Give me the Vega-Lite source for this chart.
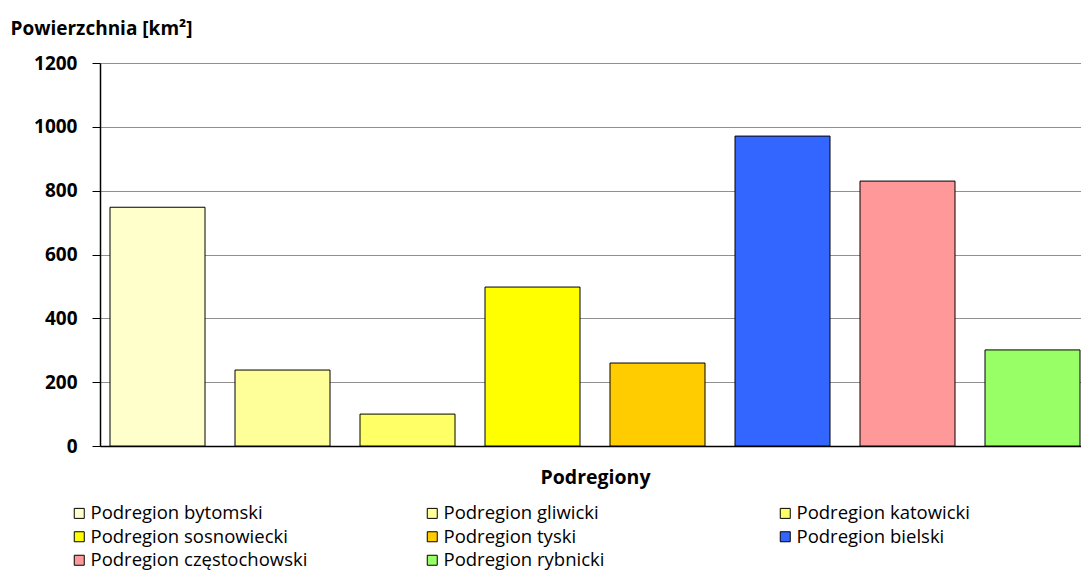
{
  "$schema": "https://vega.github.io/schema/vega-lite/v6.json",
  "autosize": {"type": "none"},
  "width": 990,
  "height": 383,
  "padding": {"left": 100, "top": 63, "right": 0, "bottom": 135},
  "background": "white",
  "config": {
    "font": "Open Sans",
    "view": {"stroke": null}
  },
  "data": {
    "values": [
      {"podregion": "Podregion bytomski", "powierzchnia": 748},
      {"podregion": "Podregion gliwicki", "powierzchnia": 238},
      {"podregion": "Podregion katowicki", "powierzchnia": 100},
      {"podregion": "Podregion sosnowiecki", "powierzchnia": 498},
      {"podregion": "Podregion tyski", "powierzchnia": 260},
      {"podregion": "Podregion bielski", "powierzchnia": 971},
      {"podregion": "Podregion częstochowski", "powierzchnia": 830},
      {"podregion": "Podregion rybnicki", "powierzchnia": 301}
    ]
  },
  "mark": {"type": "bar", "stroke": "black", "strokeWidth": 1},
  "encoding": {
    "x": {
      "field": "podregion",
      "type": "nominal",
      "sort": null,
      "scale": {"paddingInner": 0.24, "paddingOuter": 0.08},
      "axis": {
        "title": "Podregiony",
        "titleFont": "Open Sans",
        "titleFontSize": 19.5,
        "titleFontWeight": "bold",
        "titleColor": "black",
        "titleX": 495,
        "titleY": 31,
        "titleBaseline": "middle",
        "labels": false,
        "ticks": false,
        "domainColor": "black",
        "domainWidth": 1.5
      }
    },
    "y": {
      "field": "powierzchnia",
      "type": "quantitative",
      "scale": {"domain": [0, 1200], "nice": false},
      "axis": {
        "values": [0, 200, 400, 600, 800, 1000, 1200],
        "format": "d",
        "title": "Powierzchnia [km²]",
        "titleFont": "Open Sans",
        "titleFontSize": 19,
        "titleFontWeight": "bold",
        "titleColor": "black",
        "titleAngle": 0,
        "titleAlign": "left",
        "titleBaseline": "middle",
        "titleX": -90,
        "titleY": -35,
        "labelFont": "Open Sans",
        "labelFontSize": 19,
        "labelFontWeight": "bold",
        "labelColor": "black",
        "labelPadding": 15,
        "tickSize": 8,
        "tickColor": "black",
        "domainColor": "black",
        "domainWidth": 1.5,
        "gridColor": "#909090",
        "gridWidth": 1,
        "gridOpacity": 1
      }
    },
    "fill": {
      "field": "podregion",
      "type": "nominal",
      "sort": null,
      "scale": {
        "domain": ["Podregion bytomski", "Podregion gliwicki", "Podregion katowicki", "Podregion sosnowiecki", "Podregion tyski", "Podregion bielski", "Podregion częstochowski", "Podregion rybnicki"],
        "range": ["#FFFFCC", "#FFFF99", "#FFFF66", "#FFFF00", "#FFCC00", "#3366FF", "#FF9999", "#99FF66"]
      },
      "legend": {
        "title": null,
        "orient": "none",
        "legendX": -30,
        "legendY": 441,
        "direction": "horizontal",
        "columns": 3,
        "gridAlign": "all",
        "columnPadding": 115,
        "rowPadding": 4.5,
        "symbolType": "square",
        "symbolSize": 100,
        "symbolStrokeColor": "black",
        "symbolStrokeWidth": 1,
        "labelFont": "Open Sans",
        "labelFontSize": 18.5,
        "labelColor": "black",
        "labelOffset": 2,
        "labelLimit": 400
      }
    }
  }
}
